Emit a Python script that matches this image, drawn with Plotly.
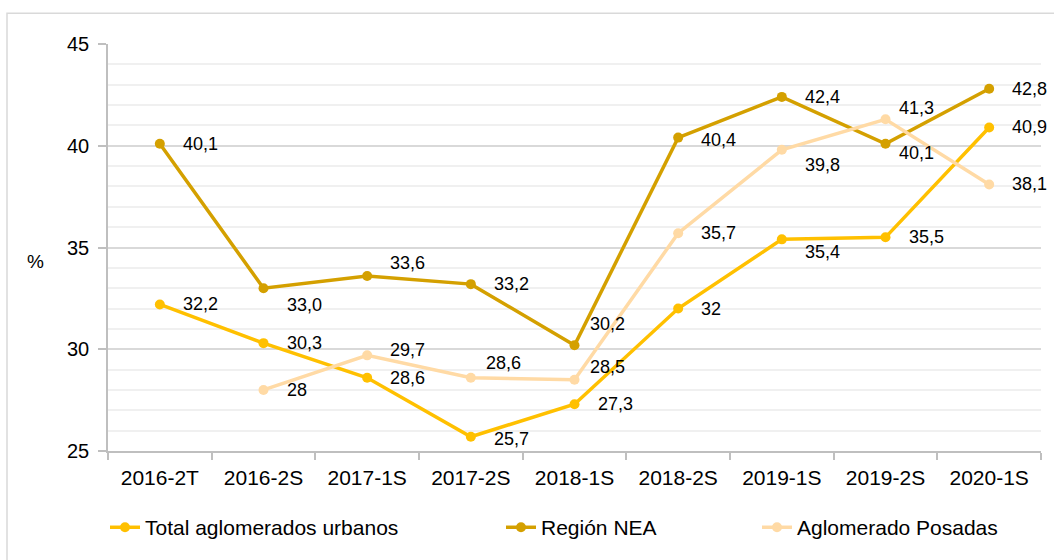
import plotly.graph_objects as go

# Data
periods = ['2016-2T', '2016-2S', '2017-1S', '2017-2S', '2018-1S',
           '2018-2S', '2019-1S', '2019-2S', '2020-1S']

total = [32.2, 30.3, 28.6, 25.7, 27.3, 32.0, 35.4, 35.5, 40.9]
total_labels = ['32,2', '30,3', '28,6', '25,7', '27,3', '32', '35,4', '35,5', '40,9']

nea = [40.1, 33.0, 33.6, 33.2, 30.2, 40.4, 42.4, 40.1, 42.8]
nea_labels = ['40,1', '33,0', '33,6', '33,2', '30,2', '40,4', '42,4', '40,1', '42,8']

posadas = [None, 28.0, 29.7, 28.6, 28.5, 35.7, 39.8, 41.3, 38.1]
posadas_labels = ['', '28', '29,7', '28,6', '28,5', '35,7', '39,8', '41,3', '38,1']

# label offsets in px (dx, dy), dy positive = up
total_offsets = [(21, 0), (21, 0), (21, 0), (21, -2), (21, 0), (21, 0), (21, -13), (21, 0), (21, 0)]
nea_offsets = [(21, 0), (21, -17), (21, 13), (21, 0), (13, 21), (21, -2), (21, 0), (11, -9), (21, 0)]
posadas_offsets = [(0, 0), (21, 0), (21, 5), (13, 15), (13, 13), (21, 0), (21, -15), (11, 11), (21, 0)]

c_total = '#FFC000'
c_nea = '#D4A000'
c_posadas = '#FFDAA5'

FONT = 'Liberation Sans, Arial, sans-serif'

fig = go.Figure()

series = [
    ('Total aglomerados urbanos', total, total_labels, total_offsets, c_total, 'legend2'),
    ('Región NEA', nea, nea_labels, nea_offsets, c_nea, 'legend3'),
    ('Aglomerado Posadas', posadas, posadas_labels, posadas_offsets, c_posadas, 'legend4'),
]

annotations = []
for name, vals, labels, offs, color, leg in series:
    fig.add_trace(go.Scatter(
        x=periods, y=vals, name=name, mode='lines+markers',
        line=dict(color=color, width=3.5),
        marker=dict(color=color, size=10),
        legend=leg, connectgaps=False
    ))
    for p, v, t, (dx, dy) in zip(periods, vals, labels, offs):
        if v is None:
            continue
        annotations.append(dict(
            x=p, y=v, text=t, showarrow=False, xanchor='left', yanchor='middle',
            xshift=dx, yshift=dy, font=dict(size=18, color='#000000', family=FONT)
        ))

W, H = 1054, 560
ml, mr, mt, mb = 108, 13, 44, 107
pw = W - ml - mr
ph = H - mt - mb


def px_x(px):
    return (px - ml) / pw


def px_y(py):
    return (H - mb - py) / ph


# percent sign on the y axis
annotations.append(dict(
    x=px_x(35), y=px_y(263), xref='paper', yref='paper', text='%', showarrow=False,
    xanchor='center', yanchor='middle',
    font=dict(size=19, color='#000000', family=FONT)
))

legend_style = dict(orientation='h', xanchor='left', yanchor='middle',
                    font=dict(size=21, color='#000000', family=FONT),
                    bgcolor='rgba(0,0,0,0)')

fig.update_layout(
    width=W, height=H,
    margin=dict(l=ml, r=mr, t=mt, b=mb),
    plot_bgcolor='white', paper_bgcolor='white',
    font=dict(family=FONT, color='#000000'),
    annotations=annotations,
    legend2=dict(x=px_x(105), y=px_y(530), **legend_style),
    legend3=dict(x=px_x(501), y=px_y(530), **legend_style),
    legend4=dict(x=px_x(757), y=px_y(530), **legend_style),
    shapes=[dict(type='rect', xref='paper', yref='paper',
                 x0=px_x(7), x1=px_x(1070), y0=px_y(580), y1=px_y(13),
                 line=dict(color='#d9d9d9', width=1.5), layer='below')]
)

fig.update_xaxes(
    type='category', range=[-0.5, 8.5], tickson='boundaries',
    ticks='outside', ticklen=7, tickcolor='#bfbfbf', tickwidth=1.5,
    showline=True, linecolor='#bfbfbf', linewidth=1.5, showgrid=False,
    ticklabelstandoff=7,
    tickfont=dict(size=21, color='#000000', family=FONT)
)
fig.update_yaxes(
    range=[25, 45], dtick=5, ticks='outside', ticklen=8, tickcolor='#bfbfbf', tickwidth=1.5,
    showline=True, linecolor='#bfbfbf', linewidth=1.5, zeroline=False,
    showgrid=True, gridcolor='#d9d9d9', gridwidth=1.5,
    minor=dict(dtick=1, showgrid=True, gridcolor='#f0f0f0', gridwidth=1.5, ticks=''),
    ticklabelstandoff=5,
    tickfont=dict(size=20, color='#000000', family=FONT)
)

fig.write_html('out.html', config={'displayModeBar': False},
               post_script="document.body.style.margin='0';")
